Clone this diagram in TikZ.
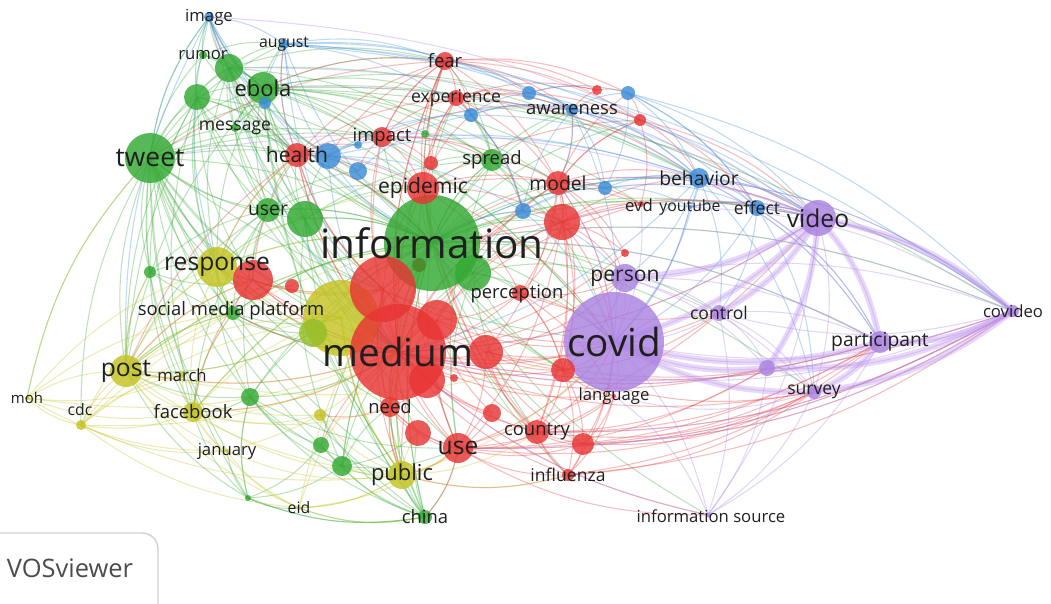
\documentclass[tikz,border=0pt]{standalone}
\usepackage{fontspec}
\setmainfont{Open Sans}
\definecolor{cred}{RGB}{232,52,52}
\definecolor{cgreen}{RGB}{50,168,50}
\definecolor{cblue}{RGB}{60,140,215}
\definecolor{cyellow}{RGB}{195,195,35}
\definecolor{cpurple}{RGB}{170,130,225}
\definecolor{clav}{RGB}{195,155,240}
\definecolor{clime}{RGB}{150,190,40}
\definecolor{cdkgreen}{RGB}{80,130,40}
\pgfdeclarelayer{edges}
\pgfdeclarelayer{labels}
\pgfsetlayers{edges,main,labels}
\tikzset{
  bub/.style={circle, fill=#1, fill opacity=0.82, inner sep=0pt, draw=none},
  rad/.style={minimum size=#1*0.4mm},
  lbl/.style={font=\fontsize{#1}{#1}\selectfont, text=black!88, inner sep=0pt},
  lnk/.style={draw=#1, opacity=0.33, line width=0.6pt},
  lnkthick/.style={draw=#1, opacity=0.4, line width=3.4pt}
}
\newcommand\lnkdraw[4]{%
  \path (#1.center); \pgfgetlastxy{\lAx}{\lAy}%
  \path (#2.center); \pgfgetlastxy{\lBx}{\lBy}%
  \pgfmathsetmacro\lCrs{((\lBx-\lAx)/100)*(((\lAy+\lBy)/2-\lCy)/100)-((\lBy-\lAy)/100)*(((\lAx+\lBx)/2-\lCx)/100)}%
  \pgfmathsetmacro\lBnd{\lCrs>0?15:-15}%
  \draw[#4=#3] (#1.center) to[bend left=\lBnd] (#2.center);%
}
\begin{document}
\begin{tikzpicture}[x=0.02cm,y=-0.02cm]
\useasboundingbox (0,0) rectangle (1051,603);
\coordinate (ctr) at (500,290);
\path (ctr); \pgfgetlastxy{\lCx}{\lCy}
% ---------------- purple
\node[bub=cpurple,rad=50] (covid) at (614,342) {};
\node[bub=cpurple,rad=18] (video) at (818,218) {};
\node[bub=cpurple,rad=14] (person) at (625,278) {};
\node[bub=cpurple,rad=8] (control) at (719,313) {};
\node[bub=cpurple,rad=11] (participant) at (880,342) {};
\node[bub=cpurple,rad=8] (p1) at (767,368) {};
\node[bub=cpurple,rad=7] (survey) at (814,392) {};
\node[bub=cpurple,rad=6] (covideo) at (1013,311) {};
\node[bub=cpurple,rad=2.5] (infsrc) at (708,515) {};
\node[bub=cred,rad=2] (language) at (614,396) {};
% ---------------- green
\node[bub=cgreen,rad=48] (information) at (432,243) {};
\node[bub=cgreen,rad=25] (tweet) at (150,158) {};
\node[bub=cgreen,rad=16] (ebola) at (263,88) {};
\node[bub=cgreen,rad=14] (g1) at (229,68) {};
\node[bub=cgreen,rad=13] (g2) at (197,97) {};
\node[bub=cgreen,rad=4] (rumor) at (203,55) {};
\node[bub=cgreen,rad=4] (message) at (235,128) {};
\node[bub=cgreen,rad=12] (user) at (268,210) {};
\node[bub=cgreen,rad=18] (g3) at (305,219) {};
\node[bub=cgreen,rad=11] (spread) at (492,160) {};
\node[bub=cgreen,rad=4] (g4) at (425,134) {};
\node[bub=cgreen,rad=18] (g5) at (473,273) {};
\node[bub=cgreen,rad=6] (g6) at (150,272) {};
\node[bub=cgreen,rad=9] (g7) at (250,397) {};
\node[bub=cgreen,rad=8] (g8) at (321,445) {};
\node[bub=cgreen,rad=10] (g9) at (342,466) {};
\node[bub=cgreen,rad=3] (g10) at (248,498) {};
\node[bub=cgreen,rad=7] (china) at (425,517) {};
\node[bub=cgreen,rad=7] (smp) at (233,313) {};
% ---------------- yellow
\node[bub=cyellow,rad=38] (ybig) at (341,318) {};
\node[bub=clime,rad=14] (g12) at (313,333) {};
\node[bub=cyellow,rad=20] (response) at (217,267) {};
\node[bub=cyellow,rad=16] (post) at (126,371) {};
\node[bub=cyellow,rad=3] (march) at (182,375) {};
\node[bub=cyellow,rad=10] (facebook) at (193,412) {};
\node[bub=cyellow,rad=5] (cdc) at (81,425) {};
\node[bub=cyellow,rad=2] (moh) at (27,398) {};
\node[bub=cyellow,rad=2] (january) at (227,451) {};
\node[bub=cyellow,rad=2] (eid) at (299,508) {};
\node[bub=cyellow,rad=14] (public) at (402,475) {};
\node[bub=cyellow,rad=6] (y1) at (320,415) {};
% ---------------- red
\node[bub=cred,rad=33] (r1) at (383,289) {};
\node[bub=cred,rad=48] (medium) at (398,352) {};
\node[bub=cred,rad=20] (r2) at (437,320) {};
\node[bub=cred,rad=17] (r3) at (486,352) {};
\node[bub=cred,rad=18] (r4) at (427,380) {};
\node[bub=cred,rad=20] (r5) at (253,280) {};
\node[bub=cred,rad=7] (r6) at (292,286) {};
\node[bub=cred,rad=12] (health) at (297,155) {};
\node[bub=cred,rad=10] (impact) at (382,137) {};
\node[bub=cred,rad=7] (r7) at (431,163) {};
\node[bub=cred,rad=16] (epidemic) at (423,188) {};
\node[bub=cred,rad=9] (fear) at (445,61) {};
\node[bub=cred,rad=8] (experience) at (456,98) {};
\node[bub=cred,rad=12] (model) at (558,183) {};
\node[bub=cred,rad=18] (r8) at (562,222) {};
\node[bub=cred,rad=5] (r9) at (597,90) {};
\node[bub=cred,rad=6] (r10) at (640,120) {};
\node[bub=cred,rad=3] (evd) at (641,204) {};
\node[bub=cred,rad=4] (r11) at (625,253) {};
\node[bub=cred,rad=8] (perception) at (520,293) {};
\node[bub=cred,rad=12] (r13) at (563,370) {};
\node[bub=cred,rad=9] (r14) at (492,413) {};
\node[bub=cred,rad=13] (r15) at (418,433) {};
\node[bub=cred,rad=15] (use) at (458,448) {};
\node[bub=cred,rad=12] (country) at (537,432) {};
\node[bub=cred,rad=11] (r16) at (583,444) {};
\node[bub=cred,rad=6] (influenza) at (568,475) {};
\node[bub=cred,rad=10] (need) at (390,407) {};
\node[bub=cred,rad=4] (r17) at (454,378) {};
\node[bub=cdkgreen,rad=7] (g11) at (419,265) {};
% ---------------- blue
\node[bub=cblue,rad=5] (image) at (209,17) {};
\node[bub=cblue,rad=5] (august) at (284,44) {};
\node[bub=cblue,rad=6] (b1) at (265,103) {};
\node[bub=cblue,rad=13] (b2) at (328,156) {};
\node[bub=cblue,rad=9] (b3) at (358,171) {};
\node[bub=cblue,rad=4] (b4) at (358,145) {};
\node[bub=cblue,rad=7] (b5) at (471,115) {};
\node[bub=cblue,rad=7] (b6) at (529,93) {};
\node[bub=cblue,rad=6] (awareness) at (572,110) {};
\node[bub=cblue,rad=7] (b7) at (628,93) {};
\node[bub=cblue,rad=8] (b8) at (523,211) {};
\node[bub=cblue,rad=7] (b9) at (605,188) {};
\node[bub=cblue,rad=10] (behavior) at (699,178) {};
\node[bub=cblue,rad=2] (youtube) at (690,207) {};
\node[bub=cblue,rad=8] (effect) at (757,208) {};
% ---------------- edges
\begin{pgfonlayer}{edges}
\foreach \s/\c/\tl in {
 tweet/cgreen/{image,rumor,g1,g2,ebola,message,health,user,g3,information,response,post,facebook,medium,smp,china,public,g6,g7,g9,g10,spread,epidemic,impact,march,cdc,moh,january,r5,ybig,b1,august,covid,g12,need},
 ebola/cgreen/{image,august,rumor,g1,g2,message,b1,health,information,medium,spread,fear,experience,awareness,epidemic,user,g3,covid,video,behavior,evd,model,r8,b2,impact,response,post,public,china,r1,covideo},
 g1/cgreen/{image,rumor,august,g2,message,health,information,medium,user,g3,spread,fear,r1,response,post,covid,behavior},
 g2/cgreen/{image,rumor,message,health,information,medium,user,g3,response,post,g6,r5,smp,facebook,epidemic},
 information/cgreen/{medium,covid,epidemic,health,user,g3,spread,model,perception,response,post,public,use,need,country,person,video,behavior,awareness,fear,experience,impact,facebook,china,influenza,language,control,participant,survey,covideo,infsrc,effect,youtube,r8,r13,r16,g9,g8,smp,b8,b9,r10},
 user/cgreen/{g3,health,information,medium,response,smp,g6,post,r5,facebook,g7,epidemic,b3,r1},
 g3/cgreen/{health,medium,information,spread,epidemic,r1,ybig,response,public,g9,b2,use},
 spread/cgreen/{epidemic,model,information,medium,fear,experience,b5,r8,b8,r7,covid,use,g4,awareness},
 g5/cgreen/{information,medium,covid,r8,perception,use,person,model,epidemic,r13,country},
 china/cgreen/{public,medium,information,g9,g8,use,need,eid,g10,r15,r1,ybig,y1,g7},
 g7/cgreen/{facebook,medium,r1,post,g8,g9,public,use,information,response,g10},
 g9/cgreen/{public,medium,information,need,use,r15,g10},
 g10/cgreen/{facebook,january,g7,g8,eid,post,china},
 g6/cgreen/{response,post,facebook,medium,r5},
 message/cgreen/{b1,health,information,medium,user},
 rumor/cgreen/{image,august,b1,information},
 smp/cgreen/{medium,information,response,post,facebook,ybig,g12},
 g12/cgreen/{medium,r1,information,post,response},
 medium/cred/{covid,r1,r2,r3,r4,r5,need,use,public,country,r13,r16,influenza,perception,model,r8,epidemic,health,impact,fear,person,language,control,participant,survey,covideo,video,infsrc,r14,r15,facebook,post,response,smp,g8,r17,experience,evd,r11,b8,p1},
 r1/cred/{r2,r3,epidemic,health,impact,need,use,public,covid,r8,response,r5,model},
 r2/cred/{perception,model,r8,covid,use,country,r13,public,need,r14},
 r3/cred/{r13,covid,country,use,r16,model,person,participant},
 health/cred/{impact,b2,b3,epidemic,fear,information,medium,r5,response,post,r1,b4,experience,image,august},
 impact/cred/{fear,experience,epidemic,r7,b4,b3,spread,model,awareness},
 epidemic/cred/{fear,experience,model,r8,r7,b5,covid,perception,country,influenza,use,evd,r10},
 fear/cred/{experience,r9,b5,b6,model,awareness,r10,b7,r7,impact,information,medium,tweet,ebola,b2},
 experience/cred/{b5,b6,awareness,r9,model,b8,r7,r10,behavior},
 model/cred/{r8,b9,evd,r11,perception,covid,person,r10,behavior,video,r13,country,awareness,b7},
 r8/cred/{b8,perception,covid,person,r13,country,use,evd,behavior,effect,video,r11},
 r10/cred/{b7,behavior,evd,model,awareness,video,effect},
 r9/cred/{b6,b7,awareness},
 use/cred/{public,need,r15,country,r16,influenza,covid,participant,survey,covideo,language,infsrc,r14,china,video,p1},
 country/cred/{influenza,r16,covid,r13,language,participant,survey,covideo,p1},
 r16/cred/{influenza,covid,survey,language,participant,covideo},
 influenza/cred/{covid,language,r13,public,survey,covideo,participant},
 need/cred/{public,r15,use,y1,r4},
 r5/cred/{response,smp,post,facebook,medium,r6,ybig},
 r13/cred/{covid,person,language,control,perception,r16,survey},
 perception/cred/{person,covid,r13,language,control},
 post/cyellow/{moh,cdc,march,facebook,january,response,smp,ybig,medium,information,public,eid,covid,g6,g12,r5,y1},
 cdc/cyellow/{moh,facebook,january,response,medium,information,public,march,eid,smp,ybig},
 moh/cyellow/{facebook,response,medium,tweet,march,january,smp},
 facebook/cyellow/{january,public,medium,information,response,eid,ybig,march,y1,smp,need},
 response/cyellow/{ybig,medium,information,smp,health,r1,epidemic},
 public/cyellow/{medium,information,use,need,eid,ybig,y1,r15,covid,country,influenza},
 ybig/cyellow/{medium,information,r1,r2,need,public},
 january/cyellow/{public,medium,eid},
 eid/cyellow/{public,medium,information,use,china},
 image/cblue/{august,b1,health,b2,information,response,post,medium,tweet,ebola},
 august/cblue/{b1,health,b2,information,behavior,awareness,video,b5,b6,medium,fear,covideo},
 b2/cblue/{b3,b4,information,medium,awareness,behavior,b5,b8,epidemic},
 behavior/cblue/{awareness,b6,b7,b9,b8,effect,youtube,video,covid,information,participant,control,person,b5,health,covideo,survey,medium},
 awareness/cblue/{b6,b7,b5,b9,effect,video,covid,b8,model},
 effect/cblue/{video,covid,youtube,b9,participant,covideo,control,survey,b7},
 b7/cblue/{b6,video,effect,covideo,b9},
 b8/cblue/{b9,covid,person,information,b5},
 b5/cblue/{b6,b8,awareness,b3},
 youtube/cblue/{video,covid,b9},
 covid/cpurple/{video,person,control,participant,survey,covideo,infsrc,language,p1,youtube,evd,model},
 video/cpurple/{participant,covideo,survey,control,p1,person,infsrc,medium,tweet,ebola,image,g1,behavior,effect,youtube,b9,model,r8},
 participant/cpurple/{covideo,survey,p1,control,person,infsrc,medium,information,behavior,effect},
 covideo/cpurple/{survey,p1,control,person,video,behavior,medium,information,use,country,effect,youtube,r13,r16},
 survey/cpurple/{p1,control,person,infsrc,language},
 control/cpurple/{p1,person,infsrc},
 p1/cpurple/{person,infsrc},
 infsrc/cpurple/{language,medium}}{\foreach \t in \tl {\lnkdraw{\s}{\t}{\c}{lnk}}}
\foreach \s/\t in {covid/video,video/participant,covideo/video,covideo/participant,covid/participant,covid/survey,participant/survey,video/p1,covid/p1,covideo/survey,person/video,video/control,covideo/p1}
 {\lnkdraw{\s}{\t}{clav}{lnkthick}}
\end{pgfonlayer}
% ---------------- labels
\begin{pgfonlayer}{labels}
\node[lbl=23] (information-t) at (information) {information};
\node[lbl=22] (medium-t) at (medium) {medium};
\node[lbl=22] (covid-t) at (covid) {covid};
\node[lbl=15] (tweet-t) at (tweet) {tweet};
\node[lbl=14] (post-t) at (post) {post};
\node[lbl=14] (response-t) at (response) {response};
\node[lbl=14] (video-t) at (video) {video};
\node[lbl=14] (use-t) at (use) {use};
\node[lbl=12.5] (ebola-t) at (ebola) {ebola};
\node[lbl=12.5] (public-t) at (public) {public};
\node[lbl=12] (health-t) at (health) {health};
\node[lbl=12] (epidemic-t) at (epidemic) {epidemic};
\node[lbl=12] (person-t) at (person) {person};
\node[lbl=11] (model-t) at (model) {model};
\node[lbl=11] (behavior-t) at (behavior) {behavior};
\node[lbl=11] (participant-t) at (participant) {participant};
\node[lbl=10.5] (facebook-t) at (facebook) {facebook};
\node[lbl=10.5] (smp-t) at (231,311) {social media platform};
\node[lbl=10.5] (spread-t) at (spread) {spread};
\node[lbl=10.5] (impact-t) at (impact) {impact};
\node[lbl=10.5] (fear-t) at (fear) {fear};
\node[lbl=10] (experience-t) at (experience) {experience};
\node[lbl=10.5] (awareness-t) at (awareness) {awareness};
\node[lbl=10.5] (perception-t) at (517,294) {perception};
\node[lbl=10] (control-t) at (control) {control};
\node[lbl=10] (survey-t) at (survey) {survey};
\node[lbl=10.5] (country-t) at (country) {country};
\node[lbl=10.5] (need-t) at (need) {need};
\node[lbl=10] (influenza-t) at (influenza) {influenza};
\node[lbl=9.5] (language-t) at (language) {language};
\node[lbl=9.5] (infsrc-t) at (711,516) {information source};
\node[lbl=9.5] (covideo-t) at (covideo) {covideo};
\node[lbl=10] (effect-t) at (effect) {effect};
\node[lbl=9] (youtube-t) at (youtube) {youtube};
\node[lbl=9.5] (evd-t) at (639,205) {evd};
\node[lbl=11] (user-t) at (user) {user};
\node[lbl=10] (message-t) at (message) {message};
\node[lbl=9.5] (rumor-t) at (rumor) {rumor};
\node[lbl=9.5] (image-t) at (image) {image};
\node[lbl=9] (august-t) at (august) {august};
\node[lbl=9.5] (march-t) at (march) {march};
\node[lbl=9] (cdc-t) at (80,410) {cdc};
\node[lbl=8.5] (moh-t) at (moh) {moh};
\node[lbl=9.5] (january-t) at (january) {january};
\node[lbl=9] (eid-t) at (eid) {eid};
\node[lbl=10.5] (china-t) at (china) {china};
\draw[black!18, line width=0.8pt, fill=white, rounded corners=9pt] (-20,533) rectangle (158,640);
\node[font=\fontsize{14.5}{14.5}\selectfont, text=black!70, inner sep=0pt] (vos) at (70,568) {VOSviewer};
\end{pgfonlayer}
\end{tikzpicture}
\end{document}
